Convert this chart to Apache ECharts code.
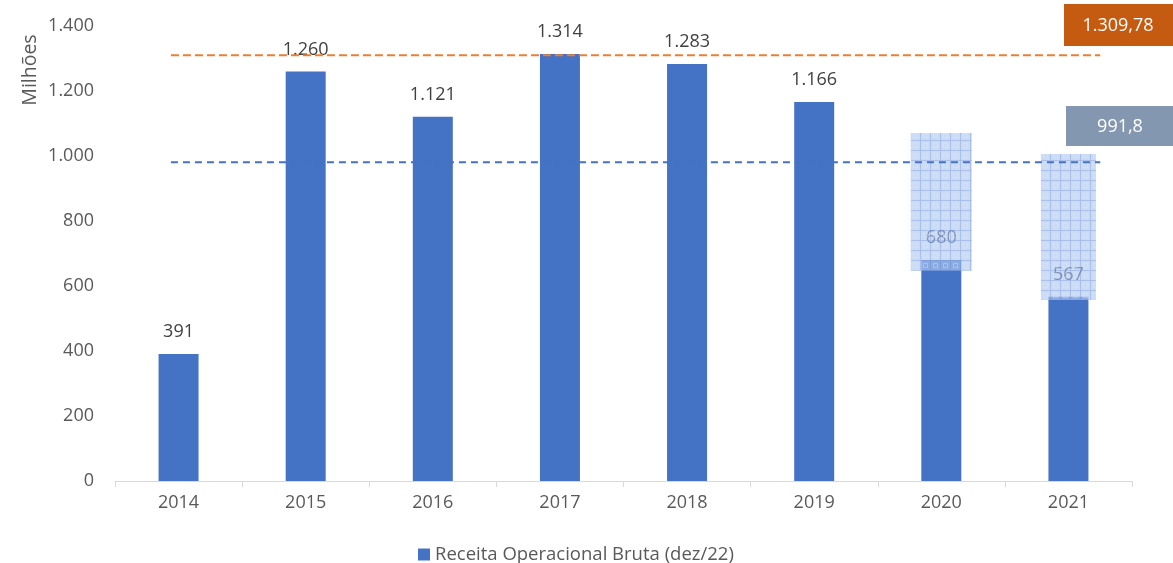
<!DOCTYPE html>
<html>
<head>
<meta charset="utf-8">
<script src="https://cdn.jsdelivr.net/npm/echarts@6/dist/echarts.min.js"></script>
<style>
  html, body { margin: 0; padding: 0; background: #fff; }
  #chart { width: 1173px; height: 563px; }
</style>
</head>
<body>
<div id="chart"></div>
<script>
const years = ['2014', '2015', '2016', '2017', '2018', '2019', '2020', '2021'];
const revenue = [391, 1260, 1121, 1314, 1283, 1166, 680, 567];
const yTicks = [0, 200, 400, 600, 800, 1000, 1200, 1400];
// shaded ranges over 2020 / 2021: [category index, low, high]
const rangeBoxes = [[6, 647, 1071], [7, 557, 1006]];
// reference lines: level drawn and the value shown in its tag
const lineLevels = [1309.78, 981];
const lineTags = [1309.78, 991.8];
// dashed reference lines span (value-axis x, 0..8 over the categories)
const refSpan = [0.44, 7.75];

const FONT = '"Open Sans", "Noto Sans", sans-serif';
const TEXT = '#595959';
const BAR = '#4472C4';
const RANGE_W = [61, 55];

function fmt(v) {
  return String(v).replace(/\B(?=(\d{3})+(?!\d))/g, '.');
}
function fmtDec(v) {
  const [i, d] = String(v).split('.');
  return fmt(Number(i)) + (d ? ',' + d : '');
}

function makePattern() {
  const c = document.createElement('canvas');
  c.width = 10; c.height = 10;
  const g = c.getContext('2d');
  g.fillStyle = 'rgba(178,200,238,0.82)';
  g.fillRect(0, 0, 10, 10);
  g.fillStyle = 'rgba(135,165,225,0.75)';
  g.fillRect(0, 0, 10, 1);
  g.fillRect(0, 0, 1, 10);
  g.strokeStyle = 'rgba(200,215,242,0.9)';
  g.lineWidth = 1;
  g.strokeRect(3.5, 3.5, 4, 4);
  return c;
}

const chart = echarts.init(document.getElementById('chart'), null, { renderer: 'canvas' });

chart.setOption({
  animation: false,
  textStyle: { fontFamily: FONT },
  grid: { left: 115, right: 41, top: 26, bottom: 82 },
  legend: {
    left: 413,
    top: 540,
    icon: 'rect',
    itemWidth: 12,
    itemHeight: 12,
    itemGap: 6,
    data: ['Receita Operacional Bruta (dez/22)'],
    textStyle: { color: TEXT, fontSize: 18.5, fontFamily: FONT }
  },
  xAxis: [
    {
      type: 'category',
      data: years,
      axisLine: { lineStyle: { color: '#d9d9d9', width: 1 } },
      axisTick: { show: true, length: 6, lineStyle: { color: '#d9d9d9' } },
      axisLabel: { color: TEXT, fontSize: 18, margin: 13, fontFamily: FONT }
    },
    { type: 'value', min: 0, max: 8, show: false }
  ],
  yAxis: {
    type: 'value',
    min: 0,
    max: 1400,
    interval: 200,
    axisLine: { show: false },
    axisTick: { show: false },
    splitLine: { show: false },
    axisLabel: {
      color: TEXT,
      fontSize: 18,
      margin: 21,
      fontFamily: FONT,
      formatter: (v) => yTicks.includes(v) ? fmt(v) : ''
    }
  },
  graphic: [
    {
      type: 'text',
      x: 30, y: 70,
      rotation: Math.PI / 2,
      style: {
        text: 'Milhões', fill: TEXT, font: '19.5px ' + FONT,
        align: 'center', verticalAlign: 'middle'
      }
    },
    {
      type: 'rect',
      shape: { x: 1064, y: 4, width: 112, height: 42 },
      style: { fill: '#C55A11' }
    },
    {
      type: 'text',
      x: 1118, y: 26,
      style: {
        text: fmtDec(lineTags[0]), fill: '#fff', font: '18px ' + FONT,
        align: 'center', verticalAlign: 'middle'
      }
    },
    {
      type: 'rect',
      shape: { x: 1066, y: 106, width: 110, height: 40 },
      style: { fill: '#8497B0' }
    },
    {
      type: 'text',
      x: 1120, y: 127,
      style: {
        text: fmtDec(lineTags[1]), fill: '#fff', font: '18px ' + FONT,
        align: 'center', verticalAlign: 'middle'
      }
    }
  ],
  series: [
    {
      name: 'Receita Operacional Bruta (dez/22)',
      type: 'bar',
      barWidth: 40,
      itemStyle: { color: BAR },
      z: 2,
      label: {
        show: true,
        position: 'top',
        distance: 13,
        fontSize: 18,
        fontFamily: FONT,
        color: '#404040',
        formatter: (p) => fmt(p.value)
      },
      data: revenue.map((v, i) => i >= 6
        ? { value: v, label: { color: '#1f2a40' } }
        : v)
    },
    {
      type: 'custom',
      z: 3,
      silent: true,
      renderItem: (params, api) => {
        const idx = api.value(0);
        const lo = api.coord([idx, api.value(1)]);
        const hi = api.coord([idx, api.value(2)]);
        const w = RANGE_W[params.dataIndex];
        return {
          type: 'rect',
          shape: { x: lo[0] - w / 2, y: hi[1], width: w, height: lo[1] - hi[1] },
          style: { fill: { image: makePattern(), repeat: 'repeat' }, opacity: 0.8 }
        };
      },
      data: rangeBoxes
    },
    {
      type: 'line',
      xAxisIndex: 1,
      symbol: 'none',
      z: 4,
      lineStyle: { color: '#ED7D31', width: 2, type: [8, 4] },
      data: refSpan.map((x) => [x, lineLevels[0]])
    },
    {
      type: 'line',
      xAxisIndex: 1,
      symbol: 'none',
      z: 4,
      lineStyle: { color: BAR, width: 2, type: [7, 5] },
      data: refSpan.map((x) => [x, lineLevels[1]])
    }
  ]
});
</script>
</body>
</html>
